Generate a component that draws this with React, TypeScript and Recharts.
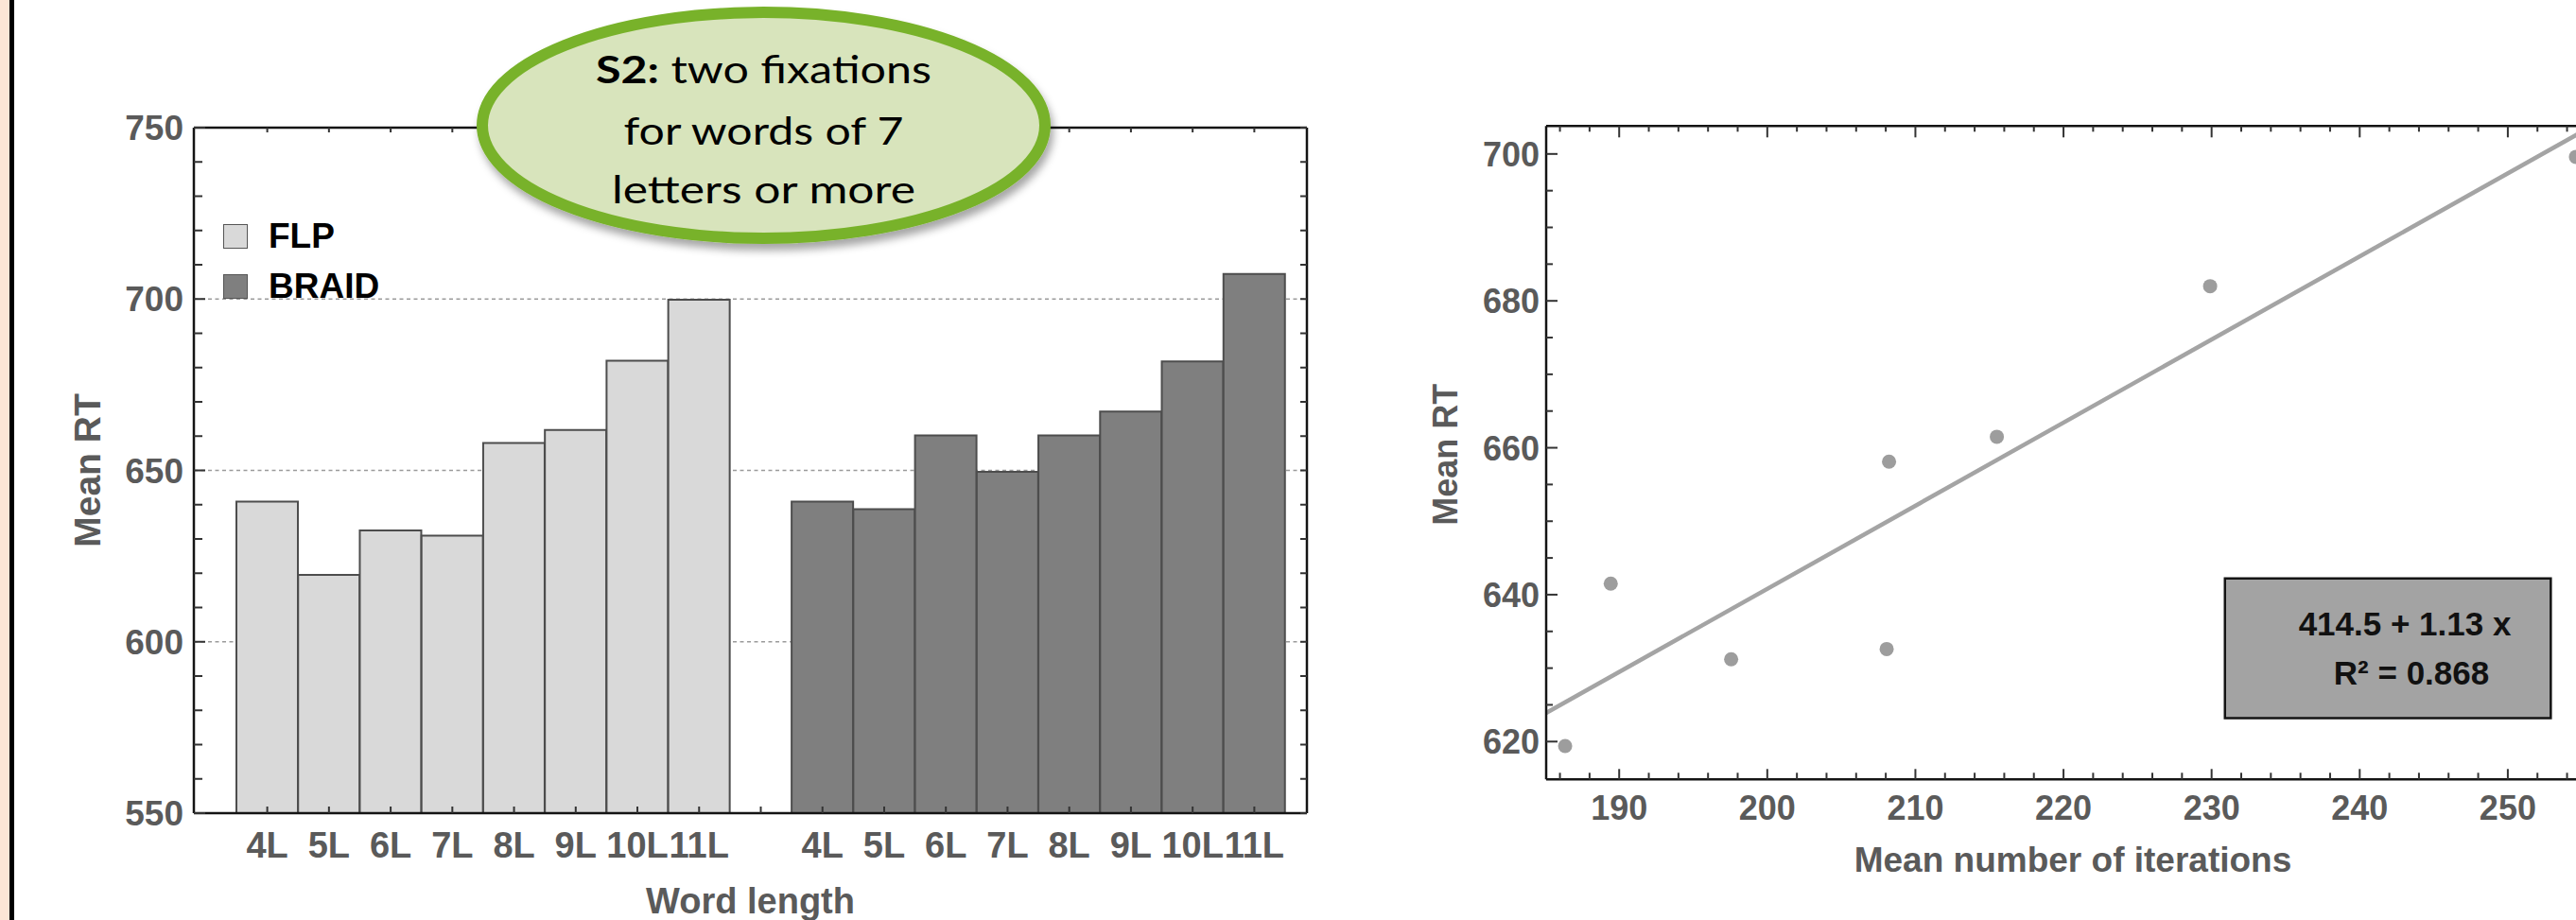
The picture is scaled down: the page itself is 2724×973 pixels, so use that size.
import React from "react";
import {
  BarChart,
  Bar,
  Cell,
  XAxis,
  YAxis,
  CartesianGrid,
  Legend,
  Label,
  ScatterChart,
  Scatter,
  ReferenceLine,
  ReferenceArea,
} from "recharts";

// ---------- data ----------
const wordLengths = ["4L", "5L", "6L", "7L", "8L", "9L", "10L", "11L"];
const flpRT = [640.9, 619.5, 632.5, 631.0, 658.0, 661.8, 682.0, 699.8];
const braidRT = [640.9, 638.7, 660.2, 649.6, 660.2, 667.2, 681.8, 707.3];
const seriesNames = ["FLP", "BRAID"];
const leftYTicks = [550, 560, 570, 580, 590, 600, 610, 620, 630, 640, 650, 660, 670, 680, 690, 700, 710, 720, 730, 740, 750];
const gridValues = [600, 650, 700];

const iterations = [186.35, 189.43, 197.56, 208.06, 208.22, 215.5, 229.9, 254.6];
const meanRT = [619.4, 641.5, 631.2, 632.6, 658.1, 661.5, 682.0, 699.6];
const regLine = [
  { iter: 185.07, rt: 623.9 },
  { iter: 255.6, rt: 703.7 },
];
const rightXTicks = [186, 188, 190, 192, 194, 196, 198, 200, 202, 204, 206, 208, 210, 212, 214, 216, 218, 220, 222, 224, 226, 228, 230, 232, 234, 236, 238, 240, 242, 244, 246, 248, 250, 252, 254, 256];
const rightYTicks = [620, 625, 630, 635, 640, 645, 650, 655, 660, 665, 670, 675, 680, 685, 690, 695, 700];
const fitText = ["414.5 + 1.13 x", "R\u00B2 = 0.868"];
const fitBox = { x1: 230.9, x2: 252.9, y1: 623.2, y2: 642.2 };
const calloutLines = ["two fixations", "for words of 7", "letters or more"];

// ---------- styles ----------
const FONT = '"Liberation Sans", Arial, Helvetica, sans-serif';
const TICK_COLOR = "#5a5a5a";
const FRAME = "#141414";
const TICK_LINE = "#333333";
const FLP_COLOR = "#d9d9d9";
const BRAID_COLOR = "#7f7f7f";
const seriesColors = [FLP_COLOR, BRAID_COLOR];

const barData = [
  ...wordLengths.map((w, i) => ({ cat: w, rt: flpRT[i], group: "FLP" })),
  { cat: "", rt: null as number | null, group: "gap" },
  ...wordLengths.map((w, i) => ({ cat: w, rt: braidRT[i], group: "BRAID" })),
];

const scatterData = iterations.map((x, i) => ({ iter: x, rt: meanRT[i] }));

const frameLine = { stroke: FRAME, strokeWidth: 2.5 };

// ---------- tick renderers ----------
const BarXTick = (p: any) => {
  const { x, y, payload } = p;
  return (
    <g>
      <line x1={x} x2={x} y1={y} y2={y - 7} stroke={TICK_LINE} strokeWidth={2} />
      <text x={x} y={y + 47} textAnchor="middle" fontFamily={FONT} fontWeight="bold" fontSize={38} fill={TICK_COLOR}>
        {payload.value}
      </text>
    </g>
  );
};
const BarTopTick = (p: any) => {
  const { x, y } = p;
  return <line x1={x} x2={x} y1={y} y2={y + 5} stroke={TICK_LINE} strokeWidth={2} />;
};
const BarLeftTick = (p: any) => {
  const { x, y, payload } = p;
  const v = Number(payload.value);
  const major = v % 50 === 0;
  return (
    <g>
      <line x1={x} x2={x + (major ? 12 : 9)} y1={y} y2={y} stroke={TICK_LINE} strokeWidth={2} />
      {major && (
        <text x={x - 11} y={y + 13} textAnchor="end" fontFamily={FONT} fontWeight="bold" fontSize={37} fill={TICK_COLOR}>
          {v}
        </text>
      )}
    </g>
  );
};
const BarRightTick = (p: any) => {
  const { x, y } = p;
  return <line x1={x} x2={x - 7} y1={y} y2={y} stroke={TICK_LINE} strokeWidth={2} />;
};

const ScX = (p: any) => {
  const { x, y, payload } = p;
  const v = Number(payload.value);
  const major = v % 10 === 0;
  return (
    <g>
      <line x1={x} x2={x} y1={y} y2={y - (major ? 11 : 7)} stroke={TICK_LINE} strokeWidth={2} />
      {major && (
        <text x={x} y={y + 43} textAnchor="middle" fontFamily={FONT} fontWeight="bold" fontSize={36} fill={TICK_COLOR}>
          {v}
        </text>
      )}
    </g>
  );
};
const ScTop = (p: any) => {
  const { x, y, payload } = p;
  const v = Number(payload.value);
  const major = v % 10 === 0;
  return <line x1={x} x2={x} y1={y} y2={y + (major ? 12 : 6)} stroke={TICK_LINE} strokeWidth={2} />;
};
const ScY = (p: any) => {
  const { x, y, payload } = p;
  const v = Number(payload.value);
  const major = v % 20 === 0;
  return (
    <g>
      <line x1={x} x2={x + (major ? 12 : 7)} y1={y} y2={y} stroke={TICK_LINE} strokeWidth={2} />
      {major && (
        <text x={x - 7} y={y + 13} textAnchor="end" fontFamily={FONT} fontWeight="bold" fontSize={36} fill={TICK_COLOR}>
          {v}
        </text>
      )}
    </g>
  );
};

// ---------- labels ----------
const vLabel = (text: string, dx: number, dy: number, size: number) => (props: any) => {
  const vb = props.viewBox || { x: 0, y: 0, width: 0, height: 0 };
  const cx = vb.x + vb.width + dx;
  const cy = vb.y + vb.height / 2 + dy;
  return (
    <text
      x={cx}
      y={cy}
      transform={`rotate(-90 ${cx} ${cy})`}
      textAnchor="middle"
      dominantBaseline="central"
      fontFamily={FONT}
      fontWeight="bold"
      fontSize={size}
      fill={TICK_COLOR}
    >
      {text}
    </text>
  );
};
const hLabel = (text: string, dy: number, size: number) => (props: any) => {
  const vb = props.viewBox || { x: 0, y: 0, width: 0, height: 0 };
  return (
    <text x={vb.x + vb.width / 2} y={vb.y + dy} textAnchor="middle" fontFamily={FONT} fontWeight="bold" fontSize={size} fill={TICK_COLOR}>
      {text}
    </text>
  );
};

const BoxLabel = (props: any) => {
  const vb = props.viewBox || { x: 0, y: 0, width: 0, height: 0 };
  const cx = vb.x + vb.width / 2;
  return (
    <g>
      <text x={cx + 18} y={vb.y + 60} textAnchor="middle" fontFamily={FONT} fontWeight="bold" fontSize={35} fill="#111">
        {fitText[0]}
      </text>
      <text x={cx + 25} y={vb.y + 112} textAnchor="middle" fontFamily={FONT} fontWeight="bold" fontSize={35} fill="#111">
        {fitText[1]}
      </text>
    </g>
  );
};

const LegendContent = () => (
  <div style={{ fontFamily: FONT }}>
    {seriesNames.map((n, i) => (
      <div key={n} style={{ display: "flex", alignItems: "center", height: 27, marginBottom: i === 0 ? 26 : 0 }}>
        <div
          style={{
            width: 24,
            height: 24,
            background: seriesColors[i],
            border: "1.8px solid #555",
            boxSizing: "content-box",
          }}
        />
        <span style={{ marginLeft: 22, fontSize: 37, fontWeight: "bold", color: "#000", lineHeight: "27px" }}>{n}</span>
      </div>
    ))}
  </div>
);

export default function App() {
  return (
    <div
      style={{
        position: "absolute",
        left: 0,
        top: 0,
        width: 2724,
        height: 973,
        overflow: "hidden",
        background: "#ffffff",
      }}
    >
      <div style={{ position: "absolute", left: 0, top: 0, width: 10, height: 973, background: "#fce6d6" }} />
      <div style={{ position: "absolute", left: 10, top: 0, width: 5, height: 973, background: "#000" }} />

      {/* Left: bar chart */}
      <div style={{ position: "absolute", left: 0, top: 0 }}>
        <BarChart
          width={1400}
          height={973}
          data={barData}
          margin={{ top: 134, right: 17, bottom: 112, left: 204 }}
          barCategoryGap={0}
          barGap={0}
        >
          <YAxis yAxisId={0} hide orientation="right" width={0} type="number" domain={[550, 750]} ticks={gridValues} allowDataOverflow />
          <CartesianGrid
            xAxisId="b"
            yAxisId={0}
            vertical={false}
            horizontalValues={gridValues}
            stroke="#9b9b9b"
            strokeWidth={1.6}
            strokeDasharray="4 3.5"
          />
          <Bar dataKey="rt" xAxisId="b" yAxisId="l" stroke="#4d4d4d" strokeWidth={2} isAnimationActive={false}>
            {barData.map((d, i) => (
              <Cell key={i} fill={d.group === "BRAID" ? BRAID_COLOR : FLP_COLOR} />
            ))}
          </Bar>
          <XAxis
            xAxisId="b"
            dataKey="cat"
            type="category"
            height={1}
            padding={{ left: 45, right: 23 }}
            interval={0}
            tickSize={0}
            tickMargin={0}
            tickLine={false}
            axisLine={frameLine}
            tick={BarXTick}
          >
            <Label content={hLabel("Word length", 106, 38)} />
          </XAxis>
          <XAxis
            xAxisId="t"
            orientation="top"
            dataKey="cat"
            type="category"
            height={1}
            padding={{ left: 45, right: 23 }}
            interval={0}
            tickSize={0}
            tickMargin={0}
            tickLine={false}
            axisLine={frameLine}
            tick={BarTopTick}
          />
          <YAxis
            yAxisId="l"
            type="number"
            domain={[550, 750]}
            ticks={leftYTicks}
            allowDataOverflow
            width={1}
            interval={0}
            tickSize={0}
            tickMargin={0}
            tickLine={false}
            axisLine={frameLine}
            tick={BarLeftTick}
          >
            <Label content={vLabel("Mean RT", -113, 0, 39)} />
          </YAxis>
          <YAxis
            yAxisId="r"
            orientation="right"
            type="number"
            domain={[550, 750]}
            ticks={leftYTicks}
            allowDataOverflow
            width={1}
            interval={0}
            tickSize={0}
            tickMargin={0}
            tickLine={false}
            axisLine={frameLine}
            tick={BarRightTick}
          />
          <Legend
            layout="horizontal"
            verticalAlign="middle"
            align="center"
            wrapperStyle={{ left: 236, top: 236, width: "auto", height: "auto" }}
            content={LegendContent}
          />
        </BarChart>
      </div>

      {/* Right: scatter with regression */}
      <div style={{ position: "absolute", left: 1400, top: 0 }}>
        <ScatterChart width={1359} height={973} margin={{ top: 132.3, right: 10, bottom: 147.7, left: 234 }}>
          <XAxis
            xAxisId="b"
            dataKey="iter"
            type="number"
            domain={[185.07, 256.2]}
            allowDataOverflow
            ticks={rightXTicks}
            interval={0}
            height={1}
            tickSize={0}
            tickMargin={0}
            tickLine={false}
            axisLine={frameLine}
            tick={ScX}
          >
            <Label content={hLabel("Mean number of iterations", 98, 37)} />
          </XAxis>
          <XAxis
            xAxisId="t"
            orientation="top"
            dataKey="iter"
            type="number"
            domain={[185.07, 256.2]}
            allowDataOverflow
            ticks={rightXTicks}
            interval={0}
            height={1}
            tickSize={0}
            tickMargin={0}
            tickLine={false}
            axisLine={frameLine}
            tick={ScTop}
          />
          <YAxis
            yAxisId="l"
            dataKey="rt"
            type="number"
            domain={[614.85, 703.8]}
            allowDataOverflow
            ticks={rightYTicks}
            interval={0}
            width={1}
            tickSize={0}
            tickMargin={0}
            tickLine={false}
            axisLine={frameLine}
            tick={ScY}
          >
            <Label content={vLabel("Mean RT", -106, 2, 36)} />
          </YAxis>
          <ReferenceLine
            xAxisId="b"
            yAxisId="l"
            segment={regLine.map((p) => ({ x: p.iter, y: p.rt }))}
            stroke="#a4a4a4"
            strokeWidth={4.5}
          />
          <ReferenceArea
            xAxisId="b"
            yAxisId="l"
            x1={fitBox.x1}
            x2={fitBox.x2}
            y1={fitBox.y1}
            y2={fitBox.y2}
            fill="#a3a3a3"
            fillOpacity={1}
            stroke={FRAME}
            strokeWidth={2.5}
            label={BoxLabel}
          />
          <Scatter
            xAxisId="b"
            yAxisId="l"
            data={scatterData}
            dataKey="rt"
            fill="#9d9d9d"
            isAnimationActive={false}
            shape={(p: any) => <circle cx={p.cx} cy={p.cy} r={7.5} fill="#9d9d9d" />}
          />
        </ScatterChart>
      </div>

      {/* Callout ellipse */}
      <svg style={{ position: "absolute", left: 0, top: 0 }} width={1400} height={300}>
        <defs>
          <filter id="sh" x="-10%" y="-10%" width="130%" height="140%">
            <feDropShadow dx="3" dy="7" stdDeviation="4" floodColor="#000" floodOpacity="0.35" />
          </filter>
        </defs>
        <ellipse cx={807.5} cy={132.5} rx={297.5} ry={119.5} fill="#d8e4bc" stroke="#78b22a" strokeWidth={12} filter="url(#sh)" />
        <text x={807.5} y={88} textAnchor="middle" fontFamily="Lato, 'Open Sans', sans-serif" fontSize={40} fill="#000" textLength={355} lengthAdjust="spacingAndGlyphs">
          <tspan fontWeight="bold">S2:</tspan> {calloutLines[0]}
        </text>
        <text x={807.5} y={153} textAnchor="middle" fontFamily="Lato, 'Open Sans', sans-serif" fontSize={40} fill="#000" textLength={296} lengthAdjust="spacingAndGlyphs">
          {calloutLines[1]}
        </text>
        <text x={807.5} y={215} textAnchor="middle" fontFamily="Lato, 'Open Sans', sans-serif" fontSize={40} fill="#000" textLength={321} lengthAdjust="spacingAndGlyphs">
          {calloutLines[2]}
        </text>
      </svg>
    </div>
  );
}
